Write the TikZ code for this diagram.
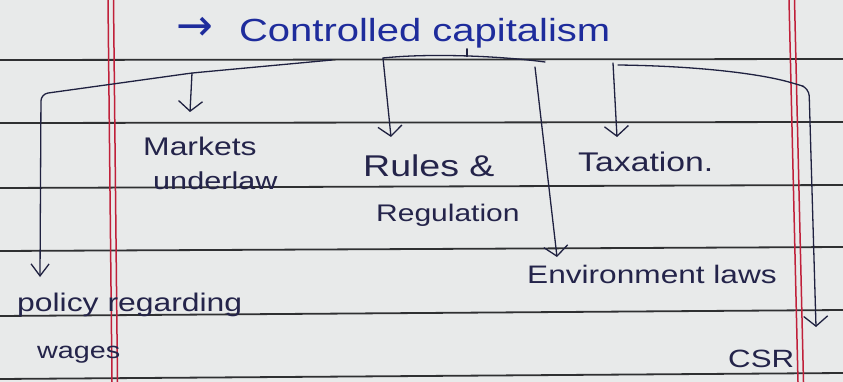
\documentclass[tikz,border=0pt]{standalone}
\usepackage{fontspec}
\newfontfamily\handfont[FakeStretch=1.25]{Liberation Sans}
\newfontfamily\arrowfont{DejaVu Sans}
\usetikzlibrary{arrows.meta}
\definecolor{paper}{HTML}{E8EAEA}
\definecolor{rulecol}{HTML}{2F3032}
\definecolor{margincol}{HTML}{C0203A}
\definecolor{ink}{HTML}{24244A}
\definecolor{linkcol}{HTML}{1F2140}
\definecolor{blueink}{HTML}{1E2C9C}
\tikzset{
  ruled/.style={draw=rulecol, line width=1.8pt},
  marginline/.style={draw=margincol, line width=1.5pt},
  lbl/.style={anchor=base west, inner sep=0pt, text=ink, font=\handfont\fontsize{#1}{#1}\selectfont},
  conn/.style={draw=linkcol, line width=1.3pt, line cap=round, line join=round},
  arr/.style={conn, -{Straight Barb[length=10pt,width=24pt]}},
  smallarr/.style={conn, -{Straight Barb[length=12pt,width=18pt]}}
}
\begin{document}
\begin{tikzpicture}[x=1pt,y=-1pt]
\fill[paper] (0,0) rectangle (843,382);
\useasboundingbox (0,0) rectangle (843,382);
% ruled lines of the paper
\draw[ruled] (0,60) -- (843,59);
\draw[ruled] (0,123) -- (843,122);
\draw[ruled] (0,188) -- (843,185);
\draw[ruled] (0,251) -- (843,247);
\draw[ruled] (0,316) -- (843,310);
\draw[ruled] (0,379) -- (843,373);
% red margin lines
\draw[marginline] (108,0) -- (112,382);
\draw[marginline] (113.5,0) -- (117.5,382);
\draw[marginline] (789,0) -- (798,382);
\draw[marginline] (794.5,0) -- (803.5,382);

% texts
\node[lbl=32, text=blueink] (title) at (176,42)
  {\raisebox{1pt}{\arrowfont\fontsize{44}{44}\selectfont →}\hspace{26pt}Controlled capitalism};
\node[lbl=25.5] (markets) at (143,156) {Markets};
\node[lbl=24.5] (underlaw) at (153,190) {underlaw};
\node[lbl=30] (rules) at (363,177) {Rules \&};
\node[lbl=24] (regulation) at (376,222) {Regulation};
\node[lbl=27] (taxation) at (578,172) {Taxation.};
\node[lbl=25.3] (environment) at (527,283) {Environment laws};
\node[lbl=25.5] (policy) at (17,311) {policy regarding};
\node[lbl=23] (wages) at (37,358) {wages};
\node[lbl=25] (csr) at (728,367) {CSR};

% junction coordinates
\coordinate (stem) at (467,56.5);
\coordinate (midL) at (383,58);
\coordinate (midR) at (545,62);
\coordinate (leftA) at (332,60);
\coordinate (mkJ) at (192,73);
\coordinate (leftC) at (41,94);
\coordinate (rightA) at (618,65);
\coordinate (rightC) at (809,88);
\coordinate (envA) at (535,67);
\coordinate (taxA) at (613,63);
% arrow tips
\coordinate (mkTip) at (190,112);
\coordinate (ruTip) at (391,137);
\coordinate (taTip) at (617,137);
\coordinate (enTip) at (557,257);
\coordinate (poTip) at (40,277);
\coordinate (csTip) at (816,327);

% connectors
\draw[conn] (title.south -| stem) -- (stem);
\draw[conn] (midL) .. controls (430,53) and (500,56) .. (midR);
\draw[smallarr, rounded corners=7pt] (leftA) -- (mkJ) -- (leftC) -- (poTip);
\draw[arr] (mkJ) -- (mkTip);
\draw[arr] (midL) -- (ruTip);
\draw[arr] (envA) -- (enTip);
\draw[arr] (taxA) -- (taTip);
\draw[arr, rounded corners=8pt] (rightA) .. controls (700,66) and (760,74) .. (796,84) -- (rightC) -- (csTip);
\end{tikzpicture}
\end{document}
